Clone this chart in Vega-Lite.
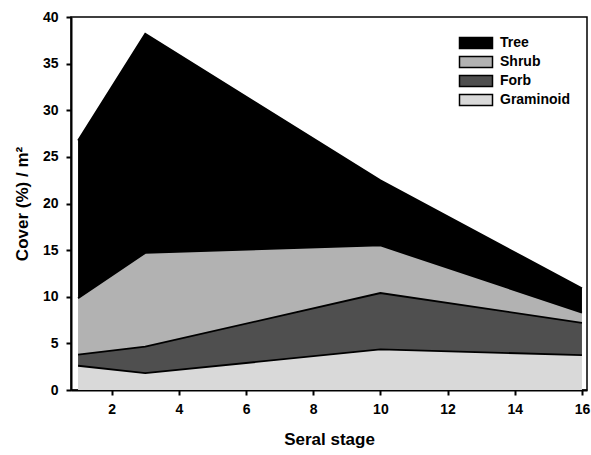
{
  "$schema": "https://vega.github.io/schema/vega-lite/v6.json",
  "autosize": "none",
  "width": 516,
  "height": 373,
  "padding": {"left": 71, "top": 17, "right": 4, "bottom": 65},
  "config": {
    "font": "Liberation Sans",
    "view": {"stroke": "black", "strokeWidth": 1.5}
  },
  "data": {
    "values": [
      {"stage": 1, "type": "Graminoid", "order": 1, "cover": 2.6},
      {"stage": 3, "type": "Graminoid", "order": 1, "cover": 1.8},
      {"stage": 10, "type": "Graminoid", "order": 1, "cover": 4.35},
      {"stage": 16, "type": "Graminoid", "order": 1, "cover": 3.75},
      {"stage": 1, "type": "Forb", "order": 2, "cover": 1.2},
      {"stage": 3, "type": "Forb", "order": 2, "cover": 2.85},
      {"stage": 10, "type": "Forb", "order": 2, "cover": 6.05},
      {"stage": 16, "type": "Forb", "order": 2, "cover": 3.45},
      {"stage": 1, "type": "Shrub", "order": 3, "cover": 6.05},
      {"stage": 3, "type": "Shrub", "order": 3, "cover": 10.05},
      {"stage": 10, "type": "Shrub", "order": 3, "cover": 5.1},
      {"stage": 16, "type": "Shrub", "order": 3, "cover": 1.1},
      {"stage": 1, "type": "Tree", "order": 4, "cover": 16.9},
      {"stage": 3, "type": "Tree", "order": 4, "cover": 23.5},
      {"stage": 10, "type": "Tree", "order": 4, "cover": 7.0},
      {"stage": 16, "type": "Tree", "order": 4, "cover": 2.6}
    ]
  },
  "encoding": {
    "x": {
      "field": "stage",
      "type": "quantitative",
      "scale": {"domain": [0.79, 16.15], "nice": false, "zero": false},
      "axis": {
        "title": "Seral stage",
        "values": [2, 4, 6, 8, 10, 12, 14, 16],
        "grid": false,
        "domainColor": "black",
        "domainWidth": 2,
        "tickColor": "black",
        "tickWidth": 2,
        "tickSize": 5,
        "labelFont": "Liberation Sans",
        "labelFontWeight": "bold",
        "labelFontSize": 14,
        "labelColor": "black",
        "labelPadding": 7,
        "labelFlush": false,
        "titleFont": "Liberation Sans",
        "titleFontWeight": "bold",
        "titleFontSize": 17,
        "titleColor": "black",
        "titlePadding": 15
      }
    },
    "y": {
      "field": "cover",
      "type": "quantitative",
      "stack": "zero",
      "scale": {"domain": [0, 40], "nice": false},
      "axis": {
        "title": "Cover (%) / m²",
        "values": [0, 5, 10, 15, 20, 25, 30, 35, 40],
        "grid": false,
        "domainColor": "black",
        "domainWidth": 2,
        "tickColor": "black",
        "tickWidth": 2,
        "tickSize": 5,
        "labelFont": "Liberation Sans",
        "labelFontWeight": "bold",
        "labelFontSize": 14,
        "labelColor": "black",
        "labelPadding": 8,
        "labelFlush": false,
        "titleFont": "Liberation Sans",
        "titleFontWeight": "bold",
        "titleFontSize": 17,
        "titleColor": "black",
        "titlePadding": 11
      }
    },
    "order": {"field": "order", "type": "quantitative"}
  },
  "layer": [
    {
      "mark": {"type": "area", "opacity": 1, "fillOpacity": 1},
      "encoding": {
        "color": {
          "field": "type",
          "type": "nominal",
          "scale": {
            "domain": ["Tree", "Shrub", "Forb", "Graminoid"],
            "range": ["#000000", "#b2b2b2", "#4f4f4f", "#d9d9d9"]
          },
          "legend": {
            "title": null,
            "orient": "none",
            "legendX": 398,
            "legendY": 19,
            "symbolType": "M-3,-1H3V1H-3Z",
            "symbolSize": 121,
            "symbolStrokeColor": "black",
            "symbolStrokeWidth": 1.5,
            "symbolOpacity": 1,
            "symbolFillOpacity": 1,
            "rowPadding": 1,
            "labelFont": "Liberation Sans",
            "labelFontWeight": "bold",
            "labelFontSize": 14,
            "labelColor": "black",
            "labelOffset": 17
          }
        }
      }
    },
    {
      "mark": {"type": "line", "color": "black", "strokeWidth": 1.8},
      "encoding": {
        "detail": {"field": "type", "type": "nominal"}
      }
    }
  ]
}
